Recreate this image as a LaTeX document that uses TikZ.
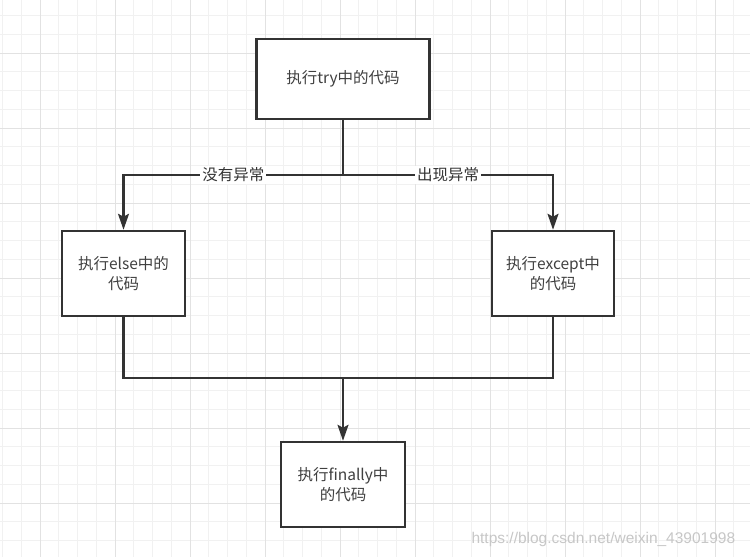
\documentclass[tikz,border=0pt]{standalone}
\usepackage{fontspec}
\setmainfont{Noto Sans CJK SC}
\newfontfamily\wmfont{Liberation Sans}
\usetikzlibrary{arrows.meta,positioning}
\definecolor{ink}{HTML}{333333}
\definecolor{gridlo}{HTML}{F1F1F1}
\definecolor{gridhi}{HTML}{E2E2E2}
\tikzset{
  box/.style={draw=ink,line width=2.5pt,fill=white,align=center,inner sep=2pt,
    font=\fontsize{15.5}{20}\selectfont,text=black!75},
  link/.style={draw=ink,line width=2.2pt},
  arr/.style={link,-{Stealth[length=16pt,width=11pt,inset=3pt]}},
  lbl/.style={fill=white,inner sep=2pt,font=\fontsize{15.5}{18}\selectfont,text=black!80},
}

\begin{document}
\begin{tikzpicture}[x=1pt,y=-1pt]
\useasboundingbox (0,0) rectangle (750,557);
\fill[white] (0,0) rectangle (750,557);
\begin{scope}[shift={(40,53)}]
\draw[gridlo,line width=1pt] (-40,-53) grid[step=18.75pt] (710,504);
\draw[gridhi,line width=1pt] (-40,-53) grid[step=75pt] (710,504);
\end{scope}
% boxes
\node[box,minimum width=173pt,minimum height=80pt] (try) at (343,79) {执行try中的代码};
\node[box,minimum width=123pt,minimum height=85pt] (else) at (123.5,273.5) {执行else中的\\代码};
\node[box,minimum width=122pt,minimum height=85pt] (except) at (553,273.5) {执行except中\\的代码};
\node[box,minimum width=124pt,minimum height=85pt] (finally) at (343,484.5) {执行finally中\\的代码};
\coordinate (split) at (343,175);
\coordinate (merge) at (343,378);
% connectors
\draw[link] (try) -- (split);
\draw[arr] (split) -- node[lbl] (noexc) {没有异常} (split -| else) -- (else);
\draw[arr] (split) -- node[lbl] (exc) {出现异常} (split -| except) -- (except);
\draw[link] (else) -- (else |- merge) -- (except |- merge) -- (except);
\draw[arr] (merge) -- (finally);
\node[anchor=west,text=black!22,font=\wmfont\fontsize{15.5}{17}\selectfont] (wm) at (468,539) {https://blog.csdn.net/weixin\_43901998};
\end{tikzpicture}
\end{document}
